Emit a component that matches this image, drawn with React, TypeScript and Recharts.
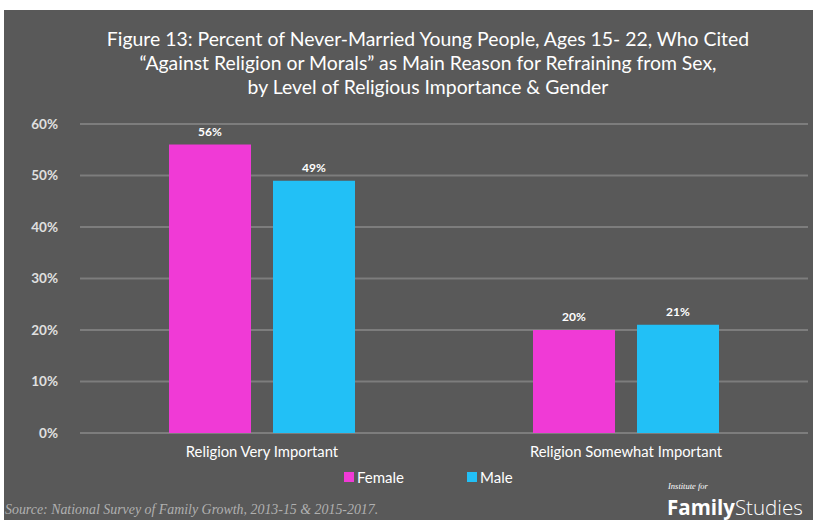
import { Bar, BarChart, CartesianGrid, LabelList, XAxis, YAxis } from 'recharts'

const categories = ['Religion Very Important', 'Religion Somewhat Important']
const femaleValues = [56, 20]
const maleValues = [49, 21]
const yTicks = [0, 10, 20, 30, 40, 50, 60]
const seriesNames = ['Female', 'Male']

const FEMALE = '#f03ad6'
const MALE = '#22c0f6'
const BG = '#595959'
const FONT = 'Lato, "Open Sans", sans-serif'

const data = categories.map((name, i) => ({
  name,
  Female: femaleValues[i],
  Male: maleValues[i],
}))

const pct = (v: number) => `${v}%`

export default function App() {
  return (
    <div style={{ position: 'fixed', left: 0, top: 0, width: 813, height: 520, background: '#fff', overflow: 'hidden' }}>
      <div style={{ position: 'absolute', left: 4, top: 10, width: 809, height: 510, background: BG }} />
      <div
        style={{
          position: 'absolute',
          left: 48,
          top: 27,
          width: 760,
          textAlign: 'center',
          color: '#fff',
          fontFamily: FONT,
          fontSize: 19.4,
          lineHeight: '24px',
        }}
      >
        Figure 13: Percent of Never-Married Young People, Ages 15- 22, Who Cited
        <br />
        “Against Religion or Morals” as Main Reason for Refraining from Sex,
        <br />
        by Level of Religious Importance &amp; Gender
      </div>
      <div style={{ position: 'absolute', left: 0, top: 0 }}>
        <BarChart
          width={813}
          height={520}
          data={data}
          margin={{ top: 124, right: 5, bottom: 57, left: 0 }}
          barSize={82}
          barGap={22}
        >
          <CartesianGrid vertical={false} stroke="#7d7d7d" strokeWidth={2} />
          <XAxis
            dataKey="name"
            axisLine={false}
            tickLine={false}
            height={30}
            tick={{ fill: '#fff', fontSize: 14.8, fontFamily: FONT }}
            tickMargin={7}
          />
          <YAxis
            width={80}
            domain={[0, 60]}
            ticks={yTicks}
            tickFormatter={pct}
            axisLine={false}
            tickLine={false}
            tickMargin={16}
            tick={{ fill: '#e0e0e0', fontSize: 13.5, fontWeight: 700, fontFamily: FONT }}
          />
          {seriesNames.map((s) => (
            <Bar key={s} dataKey={s} fill={s === 'Female' ? FEMALE : MALE} isAnimationActive={false}>
              <LabelList
                dataKey={s}
                position="top"
                offset={9}
                formatter={(v: any) => pct(v)}
                style={{ fill: '#fff', fontSize: 12, fontWeight: 700, fontFamily: FONT }}
              />
            </Bar>
          ))}
        </BarChart>
      </div>
      <div
        style={{
          position: 'absolute',
          top: 468,
          left: 344,
          display: 'flex',
          color: '#fff',
          fontFamily: FONT,
          fontSize: 15,
          lineHeight: '18px',
        }}
      >
        {seriesNames.map((s) => (
          <div key={s} style={{ display: 'flex', alignItems: 'center', width: 123 }}>
            <span
              style={{ width: 10, height: 10, background: s === 'Female' ? FEMALE : MALE, marginRight: 3, display: 'inline-block' }}
            />
            {s}
          </div>
        ))}
      </div>
      <div
        style={{
          position: 'absolute',
          left: 5,
          top: 501,
          color: '#b0b0b0',
          fontFamily: '"Liberation Serif", "DejaVu Serif", serif',
          fontStyle: 'italic',
          fontSize: 13.9,
          lineHeight: '18px',
          whiteSpace: 'nowrap',
        }}
      >
        Source: National Survey of Family Growth, 2013-15 &amp; 2015-2017.
      </div>
      <div
        style={{
          position: 'absolute',
          left: 668,
          top: 482,
          color: '#fff',
          fontFamily: '"Liberation Serif", serif',
          fontStyle: 'italic',
          fontSize: 8.5,
          lineHeight: '9px',
        }}
      >
        Institute for
      </div>
      <div
        style={{
          position: 'absolute',
          left: 667,
          top: 497,
          color: '#fff',
          fontFamily: '"Open Sans", sans-serif',
          fontSize: 20.5,
          lineHeight: '21px',
          whiteSpace: 'nowrap',
        }}
      >
        <span style={{ fontWeight: 700 }}>Family</span>
        <span style={{ fontWeight: 300 }}>Studies</span>
      </div>
    </div>
  )
}
